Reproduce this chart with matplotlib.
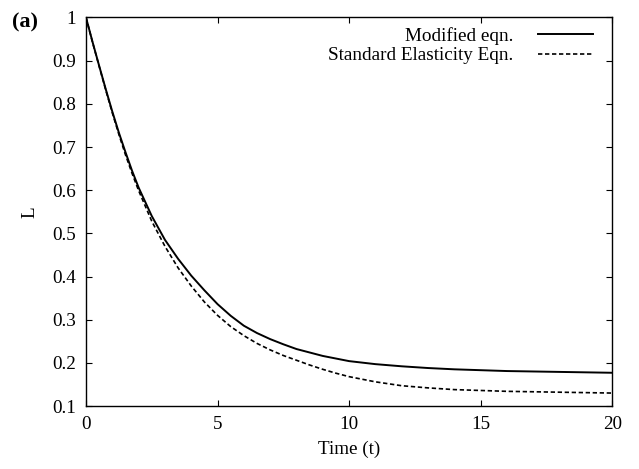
import matplotlib
matplotlib.use("Agg")
import matplotlib.pyplot as plt

# values
time_modified = [0, 0.25, 0.5, 0.75, 1.0, 1.25, 1.5, 1.75, 2.0, 2.5, 3.0, 3.5, 4.0, 4.5, 5.0, 5.5, 6.0,
                 6.5, 7.0, 7.5, 8.0, 8.5, 9.0, 9.5, 10.0, 11.0, 12.0, 13.0, 14.0, 15.0, 16.0, 17.0,
                 18.0, 19.0, 20.0]
L_modified = [1.000, 0.943, 0.888, 0.834, 0.782, 0.733, 0.688, 0.645, 0.606, 0.540, 0.485, 0.441, 0.402,
              0.368, 0.336, 0.309, 0.286, 0.269, 0.255, 0.243, 0.232, 0.224, 0.216, 0.210, 0.204, 0.197,
              0.192, 0.188, 0.185, 0.183, 0.181, 0.180, 0.179, 0.178, 0.177]

time_standard = time_modified
L_standard = [1.000, 0.942, 0.887, 0.832, 0.779, 0.729, 0.682, 0.639, 0.599, 0.528, 0.470, 0.420, 0.378,
              0.341, 0.310, 0.284, 0.263, 0.245, 0.230, 0.217, 0.206, 0.195, 0.185, 0.176, 0.168, 0.156,
              0.147, 0.142, 0.138, 0.136, 0.134, 0.133, 0.132, 0.131, 0.130]

x_ticks = [0, 5, 10, 15, 20]
y_ticks = [0.1, 0.2, 0.3, 0.4, 0.5, 0.6, 0.7, 0.8, 0.9, 1.0]
y_tick_labels = ["0.1", "0.2", "0.3", "0.4", "0.5", "0.6", "0.7", "0.8", "0.9", "1"]

plt.rcParams["font.family"] = ["Liberation Serif", "DejaVu Serif"]

fig = plt.figure(figsize=(6.39, 4.69), dpi=100)
ax = fig.add_axes([0.1346, 0.1343, 0.8234, 0.8284])

ax.plot(time_modified, L_modified, color="black", lw=1.4, label="Modified eqn.")
ax.plot(time_standard, L_standard, color="black", lw=1.2, linestyle=(0, (2.6, 1.6)),
        label="Standard Elasticity Eqn.")

ax.set_xlim(0, 20)
ax.set_ylim(0.1, 1.0)
ax.set_xticks(x_ticks)
ax.set_xticklabels([str(t) for t in x_ticks])
ax.set_yticks(y_ticks)
ax.set_yticklabels(y_tick_labels)
ax.tick_params(direction="in", length=4.5, width=0.8, top=True, right=True,
               labelsize=13.8, pad=7)
for sp in ax.spines.values():
    sp.set_linewidth(1.0)

ax.set_xlabel("Time (t)", fontsize=13.8, labelpad=6)
ax.set_ylabel("L", fontsize=13.8, labelpad=10)

ax.legend(loc="upper right", frameon=False, markerfirst=False, fontsize=13.8,
          handlelength=2.9, handletextpad=1.3, labelspacing=0.1,
          borderaxespad=0.3, bbox_to_anchor=(0.99, 1.01))

fig.text(0.018, 0.953, "(a)", fontsize=16, fontweight="bold", va="center", ha="left")

fig.savefig("out.png", dpi=100)
